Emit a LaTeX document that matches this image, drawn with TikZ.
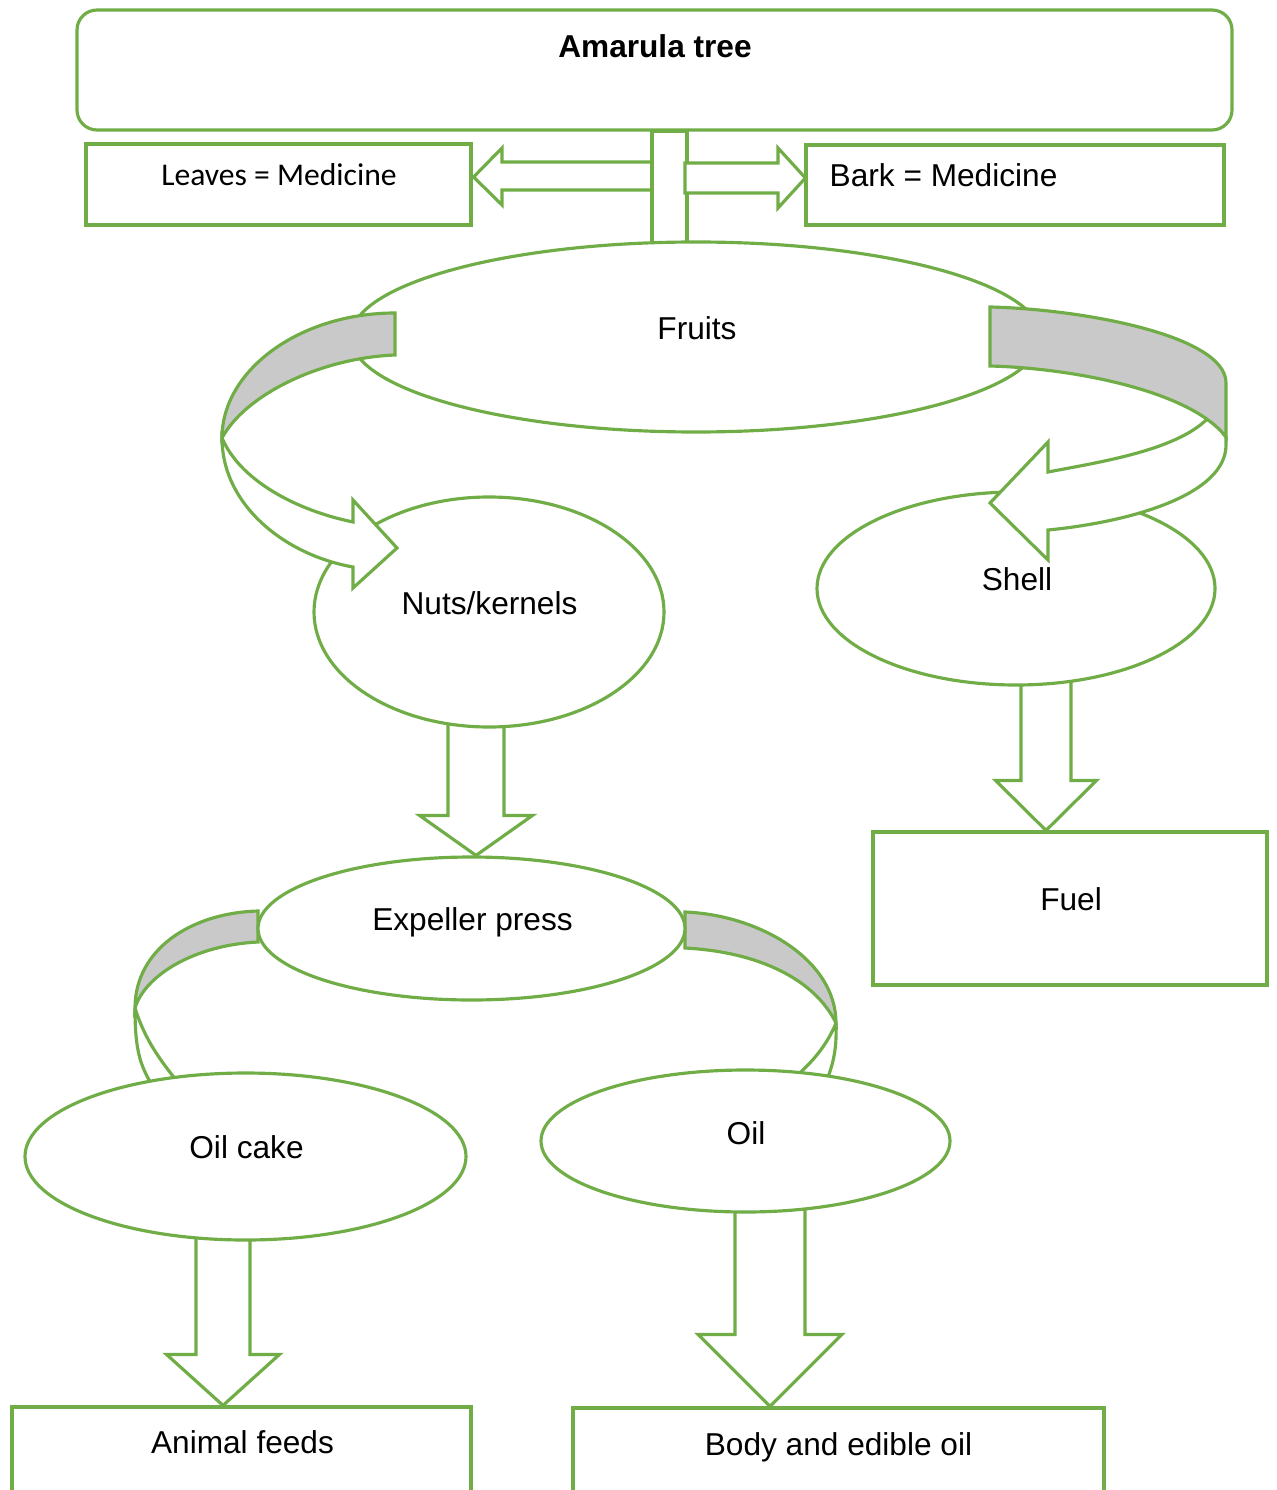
\documentclass[tikz,border=0pt]{standalone}
\usepackage{fontspec}
\setmainfont{Liberation Sans}
\newfontfamily\leaffont{Carlito}
\usetikzlibrary{calc,shapes.geometric}
\pgfdeclarelayer{back}
\pgfsetlayers{back,main}
\definecolor{leafgreen}{HTML}{70AD47}
\definecolor{bandgrey}{HTML}{C9C9C9}
\tikzset{
  box/.style={draw=leafgreen,line width=0.9pt,rectangle,inner sep=0pt},
  oval/.style={draw=leafgreen,fill=white,line width=0.9pt,ellipse,inner sep=0pt},
  band/.style={draw=leafgreen,fill=white,line width=0.9pt,line join=miter},
  backband/.style={band,fill=bandgrey},
  txt/.style={font=\fontsize{9}{11}\selectfont,inner sep=0pt,anchor=base},
}
% block arrow pointing down: from, to, x centre, half shaft, half head, head length
\newcommand{\downblock}[6]{%
  \coordinate (bt) at (#3,0 |- #1.south);
  \coordinate (bp) at (#3,0 |- #2.north);
  \draw[band] ($(bt)+(-#4,0.1)$) -- ($(bp)+(-#4,#6)$) -- ($(bp)+(-#5,#6)$) -- (bp)
    -- ($(bp)+(#5,#6)$) -- ($(bp)+(#4,#6)$) -- ($(bt)+(#4,0.1)$);
}
\begin{document}
\begin{tikzpicture}
  \useasboundingbox (0,0) rectangle (12.77,-14.90);
  \clip (0,0) rectangle (12.77,-14.90);

  % boxes
  \node[box,rounded corners=0.2cm,minimum width=11.55cm,minimum height=1.20cm] (amarula) at (6.545,-0.70) {};
  \node[box,minimum width=3.85cm,minimum height=0.81cm] (leaves) at (2.785,-1.845) {};
  \node[box,minimum width=4.18cm,minimum height=0.80cm] (bark) at (10.15,-1.85) {};
  \node[box,minimum width=3.94cm,minimum height=1.53cm] (fuel) at (10.70,-9.085) {};
  \node[box,minimum width=4.59cm,minimum height=1.20cm] (feeds) at (2.415,-14.67) {};
  \node[box,minimum width=5.31cm,minimum height=1.20cm] (bodyoil) at (8.385,-14.68) {};

  % ovals
  \node[oval,minimum width=6.90cm,minimum height=1.90cm] (fruits) at (6.96,-3.37) {};
  \node[oval,minimum width=3.50cm,minimum height=2.30cm] (nuts) at (4.89,-6.12) {};
  \node[oval,minimum width=3.98cm,minimum height=1.93cm] (shell) at (10.16,-5.885) {};
  \node[oval,minimum width=4.27cm,minimum height=1.43cm] (expeller) at (4.715,-9.285) {};
  \node[oval,minimum width=4.41cm,minimum height=1.67cm] (oilcake) at (2.455,-11.565) {};
  \node[oval,minimum width=4.09cm,minimum height=1.42cm] (oil) at (7.455,-11.41) {};

  \begin{pgfonlayer}{back}
    % tree to leaves, bark and fruits
    \draw[band] (6.60,-1.62) -- (5.02,-1.62) -- (5.02,-1.48) -- ($(leaves.east)+(0.01,0.075)$)
      -- (5.02,-2.05) -- (5.02,-1.90) -- (6.60,-1.90);
    \draw[band] (6.52,0 |- amarula.south) rectangle ($(6.87,0 |- fruits.north)+(0,-0.05)$);
    \draw[band] (6.85,-1.63) -- (7.78,-1.63) -- (7.78,-1.48) -- ($(bark.west)+(0.01,0.07)$)
      -- (7.78,-2.08) -- (7.78,-1.93) -- (6.85,-1.93) -- cycle;

    \downblock{nuts}{expeller}{4.76}{0.28}{0.565}{0.40}
    \downblock{shell}{fuel}{10.46}{0.25}{0.505}{0.50}
    \downblock{oilcake}{feeds}{2.23}{0.27}{0.565}{0.51}
    \downblock{oil}{bodyoil}{7.70}{0.35}{0.72}{0.72}

    % expeller press to oil cake and oil
    \draw[band] (1.35,-10.08) .. controls (1.35,-10.50) and (1.40,-10.65) .. (1.52,-10.85)
      -- (1.80,-10.85) .. controls (1.60,-10.60) and (1.45,-10.40) .. (1.35,-10.08);
    \draw[backband] (2.58,-9.11) .. controls (1.90,-9.13) and (1.35,-9.50) .. (1.35,-10.08)
      .. controls (1.45,-9.75) and (1.95,-9.45) .. (2.58,-9.42) -- cycle;
    \draw[band] (8.36,-10.23) .. controls (8.37,-10.50) and (8.33,-10.65) .. (8.25,-10.85)
      -- (7.85,-10.85) .. controls (8.05,-10.70) and (8.25,-10.50) .. (8.36,-10.23);
    \draw[backband] (6.85,-9.12) .. controls (7.60,-9.15) and (8.36,-9.60) .. (8.36,-10.23)
      .. controls (8.15,-9.80) and (7.60,-9.52) .. (6.85,-9.48) -- cycle;
  \end{pgfonlayer}

  % fruits to nuts/kernels
  \draw[band] (2.22,-4.38) .. controls (2.22,-5.05) and (2.85,-5.55) .. (3.53,-5.67)
    -- (3.53,-5.88) -- (3.97,-5.48) -- (3.53,-5.00) -- (3.53,-5.22)
    .. controls (2.95,-5.10) and (2.40,-4.80) .. (2.22,-4.38) -- cycle;
  \draw[backband] (3.95,-3.13) .. controls (3.00,-3.13) and (2.22,-3.70) .. (2.22,-4.38)
    .. controls (2.45,-3.95) and (3.20,-3.58) .. (3.95,-3.55) -- cycle;
  % fruits to shell
  \draw[band] (12.26,-4.37) -- (12.26,-4.45) .. controls (12.26,-4.95) and (11.30,-5.22) .. (10.48,-5.30)
    -- (10.48,-5.60) -- (9.90,-5.03) -- (10.48,-4.42) -- (10.48,-4.72)
    .. controls (11.00,-4.62) and (11.80,-4.50) .. (12.10,-4.16) -- cycle;
  \draw[backband] (9.90,-3.07) .. controls (10.80,-3.09) and (12.26,-3.35) .. (12.26,-3.83)
    -- (12.26,-4.37) .. controls (11.90,-3.90) and (10.70,-3.68) .. (9.90,-3.66) -- cycle;

  % texts
  \node[txt,font=\bfseries\fontsize{9}{11}\selectfont] (amarula-t) at (6.55,-0.58) {Amarula tree};
  \node[txt,font=\leaffont\fontsize{9}{11}\selectfont] (leaves-t) at (2.79,-1.86) {Leaves = Medicine};
  \node[txt,anchor=base west] (bark-t) at (8.29,-1.87) {Bark = Medicine};
  \node[txt] (fruits-t) at (6.97,-3.39) {Fruits};
  \node[txt] (nuts-t) at (4.895,-6.14) {Nuts/kernels};
  \node[txt] (shell-t) at (10.17,-5.90) {Shell};
  \node[txt] (expeller-t) at (4.725,-9.30) {Expeller press};
  \node[txt] (oilcake-t) at (2.465,-11.58) {Oil cake};
  \node[txt] (oil-t) at (7.46,-11.44) {Oil};
  \node[txt] (fuel-t) at (10.71,-9.10) {Fuel};
  \node[txt] (feeds-t) at (2.425,-14.53) {Animal feeds};
  \node[txt] (bodyoil-t) at (8.385,-14.55) {Body and edible oil};
\end{tikzpicture}
\end{document}
